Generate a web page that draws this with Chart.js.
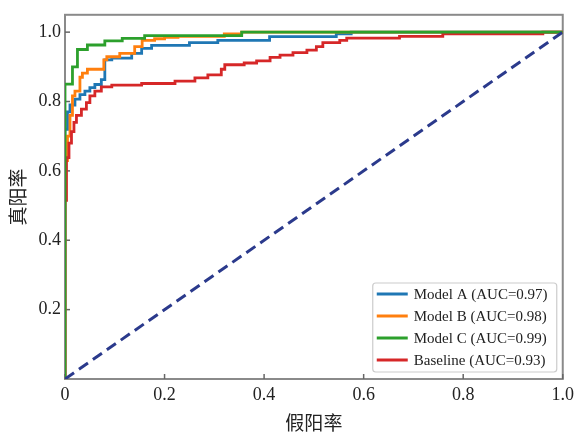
<!doctype html>
<html>

<head>
    <title>ROC</title>
    <script src="https://cdn.jsdelivr.net/npm/chart.js@4.4.0/dist/chart.umd.min.js"></script>
    <style>
        html, body {
            margin: 0;
            padding: 0;
            background: #fff;
        }

        .canvas-container {
            width: 579px;
            height: 434px;
        }
    </style>
</head>

<body>
    <div class='canvas-container'>
        <canvas id="canvas" width="579" height="434"></canvas>
    </div>
    <script>
        // ROC points (false positive rate, true positive rate)
        let fprA = [0, 0, 0.005, 0.01, 0.01, 0.02, 0.02, 0.03, 0.03, 0.04, 0.04, 0.05, 0.05, 0.06, 0.06, 0.073, 0.073, 0.08, 0.08, 0.094, 0.134, 0.154, 0.174, 0.25, 0.25, 0.307, 0.307, 0.411, 0.411, 0.545, 0.545, 0.575, 0.575, 1];
        let tprA = [0, 0.72, 0.77, 0.77, 0.79, 0.79, 0.807, 0.807, 0.82, 0.82, 0.83, 0.83, 0.84, 0.84, 0.849, 0.849, 0.863, 0.863, 0.92, 0.925, 0.939, 0.953, 0.962, 0.962, 0.97, 0.97, 0.976, 0.976, 0.987, 0.987, 0.995, 0.995, 1, 1];

        let fprB = [0, 0, 0.005, 0.01, 0.015, 0.02, 0.03, 0.035, 0.045, 0.074, 0.078, 0.084, 0.11, 0.14, 0.155, 0.18, 0.2, 0.227, 0.32, 0.32, 0.355, 0.355, 1];
        let tprB = [0, 0.63, 0.70, 0.76, 0.816, 0.83, 0.87, 0.882, 0.893, 0.893, 0.92, 0.929, 0.939, 0.958, 0.976, 0.981, 0.985, 0.988, 0.99, 0.995, 0.995, 1, 1];

        let fprC = [0, 0, 0.01, 0.015, 0.025, 0.045, 0.045, 0.08, 0.08, 0.115, 0.115, 0.16, 0.16, 0.355, 0.355, 1];
        let tprC = [0, 0.85, 0.85, 0.9, 0.95, 0.95, 0.963, 0.963, 0.975, 0.975, 0.982, 0.982, 0.99, 0.99, 1, 1];

        let fprBase = [0, 0, 0.003, 0.008, 0.013, 0.018, 0.023, 0.033, 0.043, 0.05, 0.06, 0.073, 0.094, 0.154, 0.154, 0.221, 0.221, 0.261, 0.261, 0.287, 0.287, 0.307, 0.314, 0.321, 0.36, 0.385, 0.412, 0.432, 0.458, 0.486, 0.505, 0.518, 0.552, 0.566, 0.672, 0.759, 0.96, 0.96, 1];
        let tprBase = [0, 0.515, 0.638, 0.68, 0.713, 0.74, 0.76, 0.778, 0.797, 0.816, 0.83, 0.842, 0.847, 0.847, 0.852, 0.852, 0.859, 0.859, 0.868, 0.868, 0.877, 0.877, 0.893, 0.906, 0.911, 0.917, 0.927, 0.934, 0.941, 0.948, 0.958, 0.97, 0.976, 0.983, 0.988, 0.995, 0.995, 1, 1];

        let fprDiag = [0, 1];
        let tprDiag = [0, 1];

        let labels = ['Model A (AUC=0.97)', 'Model B (AUC=0.98)', 'Model C (AUC=0.99)', 'Baseline (AUC=0.93)'];
        let xTicks = [0, 0.2, 0.4, 0.6, 0.8, 1.0];
        let yTicks = [0.2, 0.4, 0.6, 0.8, 1.0];

        function pts(xs, ys) {
            return xs.map((x, i) => ({ x: x, y: ys[i] }));
        }

        const serif = "'Liberation Serif', 'DejaVu Serif', serif";
        const cjk = "'Noto Sans CJK SC', sans-serif";

        function curve(label, xs, ys, color, order) {
            return {
                label: label,
                data: pts(xs, ys),
                borderColor: color,
                backgroundColor: color,
                borderWidth: 2.8,
                pointRadius: 0,
                showLine: true,
                stepped: 'before',
                order: order
            };
        }

        // frame + inward tick marks
        const framePlugin = {
            id: 'frame',
            beforeDatasetsDraw(chart) {
                const ctx = chart.ctx;
                const a = chart.chartArea;
                ctx.save();
                ctx.strokeStyle = '#8a8a8a';
                ctx.lineWidth = 2;
                ctx.strokeRect(a.left, a.top, a.right - a.left, a.bottom - a.top);
                ctx.strokeStyle = '#666';
                ctx.lineWidth = 1.5;
                chart.scales.x.ticks.forEach(t => {
                    const px = chart.scales.x.getPixelForValue(t.value);
                    ctx.beginPath();
                    ctx.moveTo(px, a.bottom);
                    ctx.lineTo(px, a.bottom - 5);
                    ctx.stroke();
                });
                chart.scales.y.ticks.forEach(t => {
                    const py = chart.scales.y.getPixelForValue(t.value);
                    ctx.beginPath();
                    ctx.moveTo(a.left, py);
                    ctx.lineTo(a.left + 5, py);
                    ctx.stroke();
                });
                ctx.restore();
            }
        };

        // legend in the lower right corner of the plot
        const legendPlugin = {
            id: 'innerLegend',
            afterDatasetsDraw(chart) {
                const ctx = chart.ctx;
                const a = chart.chartArea;
                const w = 184, h = 89;
                const x0 = a.right - 6 - w;
                const y0 = a.bottom - 7 - h;
                ctx.save();
                ctx.fillStyle = 'rgba(255,255,255,0.85)';
                ctx.strokeStyle = '#cccccc';
                ctx.lineWidth = 1.2;
                ctx.beginPath();
                ctx.roundRect(x0, y0, w, h, 3);
                ctx.fill();
                ctx.stroke();
                ctx.font = '15px ' + serif;
                ctx.textBaseline = 'middle';
                ctx.fillStyle = '#222';
                for (let i = 0; i < labels.length; i++) {
                    const ds = chart.data.datasets[i];
                    const y = y0 + 11 + i * 22;
                    ctx.strokeStyle = ds.borderColor;
                    ctx.lineWidth = 3;
                    ctx.beginPath();
                    ctx.moveTo(x0 + 4, y);
                    ctx.lineTo(x0 + 35, y);
                    ctx.stroke();
                    ctx.fillText(ds.label, x0 + 41, y + 1);
                }
                ctx.restore();
            }
        };

        var ctx = document.getElementById('canvas').getContext('2d');
        window.myChart = new Chart(ctx, {
            type: 'scatter',
            data: {
                datasets: [
                    curve(labels[0], fprA, tprA, '#1f77b4', 4),
                    curve(labels[1], fprB, tprB, '#ff7f0e', 3),
                    curve(labels[2], fprC, tprC, '#2ca02c', 1),
                    curve(labels[3], fprBase, tprBase, '#d62728', 2),
                    {
                        label: 'diag',
                        data: pts(fprDiag, tprDiag),
                        borderColor: '#2b3a8c',
                        borderWidth: 3,
                        borderDash: [11, 6],
                        pointRadius: 0,
                        showLine: true,
                        order: 0
                    }
                ]
            },
            options: {
                responsive: false,
                animation: false,
                layout: {
                    padding: { top: 8, right: 16, left: 0, bottom: 0 }
                },
                plugins: {
                    legend: { display: false },
                    tooltip: { enabled: false }
                },
                scales: {
                    x: {
                        type: 'linear',
                        min: 0,
                        max: 1,
                        afterBuildTicks: s => { s.ticks = xTicks.map(v => ({ value: v })); },
                        afterFit: s => { s.height = 55; },
                        grid: { display: false, drawTicks: false },
                        border: { display: false },
                        ticks: {
                            padding: 5,
                            color: '#222',
                            font: { family: serif, size: 18 },
                            callback: v => v === 0 ? '0' : Number(v).toFixed(1)
                        },
                        title: {
                            display: true,
                            text: '假阳率',
                            color: '#222',
                            font: { family: cjk, size: 19 },
                            padding: { top: 0, bottom: 0 }
                        }
                    },
                    y: {
                        type: 'linear',
                        min: 0,
                        max: 1.05,
                        afterBuildTicks: s => { s.ticks = yTicks.map(v => ({ value: v })); },
                        afterFit: s => { s.width = 65; },
                        grid: { display: false, drawTicks: false },
                        border: { display: false },
                        ticks: {
                            padding: 4,
                            color: '#222',
                            font: { family: serif, size: 18 },
                            callback: v => Number(v).toFixed(1)
                        },
                        title: {
                            display: true,
                            text: '真阳率',
                            color: '#222',
                            font: { family: cjk, size: 19 },
                            padding: { top: 6, bottom: 0 }
                        }
                    }
                }
            },
            plugins: [framePlugin, legendPlugin]
        });
    </script>
</body>

</html>
